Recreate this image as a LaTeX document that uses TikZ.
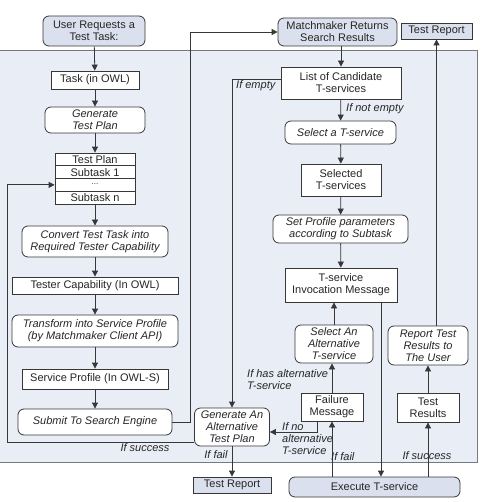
\documentclass[tikz,border=0pt]{standalone}
\usepackage{fontspec}
\setmainfont{Liberation Sans}
\usetikzlibrary{arrows.meta,calc}
\definecolor{panelc}{RGB}{233,237,246}
\definecolor{boxc}{RGB}{218,224,237}
\definecolor{linec}{RGB}{55,55,55}
\definecolor{borderc}{RGB}{120,120,128}
\begin{document}
\begin{tikzpicture}[x=1pt,y=-1pt,
  every node/.style={font=\fontsize{11}{12}\selectfont, inner sep=0pt, align=center, text=black!85},
  base/.style={draw=linec, line width=0.8pt},
  rectw/.style={base, fill=white, rectangle},
  rectf/.style={base, fill=boxc, rectangle},
  rndw/.style={base, fill=white, rounded corners=6pt, font=\fontsize{11}{12}\selectfont\itshape},
  rndf/.style={base, fill=boxc, rounded corners=6pt},
  lab/.style={font=\fontsize{11}{12}\selectfont\itshape, align=left},
  arr/.style={draw=linec, line width=0.8pt, -{Triangle[length=6pt,width=6pt]}},
  ln/.style={draw=linec, line width=0.8pt}
]
\useasboundingbox (0,0) rectangle (480,502);
\fill[panelc] (0,50) rectangle (477,462);
\draw[borderc, line width=0.8pt] (0,50) -- (477,50) -- (477,462) -- (0,462);

% left column
\node[rndf, minimum width=102pt, minimum height=30pt] (user) at (94,31) {User Requests a\\Test Task:};
\node[rectw, minimum width=88pt, minimum height=18pt] (task) at (95,80) {Task (in OWL)};
\node[rndw, minimum width=100pt, minimum height=26pt] (gen) at (95,120) {Generate\\Test Plan};
\node[rectw, minimum width=80pt, minimum height=12.75pt] (tp1) at (95,159.4) {Test Plan};
\node[rectw, minimum width=80pt, minimum height=12.75pt] (tp2) at (95,172.1) {Subtask 1};
\node[rectw, minimum width=80pt, minimum height=12.75pt] (tp3) at (95,184.9) {\raisebox{2pt}{\fontsize{8}{8}\selectfont ...}};
\node[rectw, minimum width=80pt, minimum height=12.75pt] (tp4) at (95,197.6) {Subtask n};
\node[rndw, minimum width=146pt, minimum height=31pt] (conv) at (95,241.5) {Convert Test Task into\\Required Tester Capability};
\node[rectw, minimum width=166pt, minimum height=17pt] (tcap) at (95,285.5) {Tester Capability (In OWL)};
\node[rndw, minimum width=166pt, minimum height=32pt] (trans) at (95,331) {Transform into Service Profile\\(by Matchmaker Client API)};
\node[rectw, minimum width=146pt, minimum height=20pt] (sprof) at (95,379) {Service Profile (In OWL-S)};
\node[rndw, minimum width=154pt, minimum height=26pt] (submit) at (95,422) {Submit To Search Engine};

% right column
\node[rndf, minimum width=119pt, minimum height=28pt] (match) at (337.5,32) {Matchmaker Returns\\Search Results};
\node[rectf, minimum width=71pt, minimum height=16pt] (trep) at (436.5,31) {Test Report};
\node[rectw, minimum width=120pt, minimum height=32pt] (list) at (341,83) {List of Candidate\\T-services};
\node[rndw, minimum width=111pt, minimum height=23pt] (selt) at (340.5,132.5) {Select a T-service};
\node[rectw, minimum width=80pt, minimum height=32pt] (seld) at (341,180) {Selected\\T-services};
\node[rndw, minimum width=135pt, minimum height=28pt] (setp) at (340.5,229) {Set Profile parameters\\according to Subtask};
\node[rectw, minimum width=112pt, minimum height=34pt] (inv) at (341,285) {T-service\\Invocation Message};
\node[rndw, minimum width=78pt, minimum height=38pt] (salt) at (334,344) {Select An\\Alternative\\T-service};
\node[rndw, minimum width=80pt, minimum height=39pt] (rep) at (428,345.5) {Report Test\\Results to\\The User};
\node[rectw, minimum width=62pt, minimum height=28pt] (fail) at (332,407) {Failure\\Message};
\node[rectw, minimum width=62pt, minimum height=29pt] (tres) at (428,407.5) {Test\\Results};
\node[rndf, minimum width=171pt, minimum height=20pt] (exec) at (374.5,487) {Execute T-service};
\node[rndw, minimum width=75pt, minimum height=38pt] (galt) at (232,427) {Generate An\\Alternative\\Test Plan};
\node[rectf, minimum width=78pt, minimum height=16pt] (trep2) at (232,485) {Test Report};

% coordinates
\coordinate (up) at (190,32);
\coordinate (xi) at (381,300);
\coordinate (nf) at (317,432);
\coordinate (lb) at (7,442);

% left column arrows
\draw[arr] (user) -- (task);
\draw[arr] (task) -- (gen);
\draw[arr] (gen) -- (tp1);
\draw[arr] (tp4) -- (conv);
\draw[arr] (conv) -- (tcap);
\draw[arr] (tcap) -- (trans);
\draw[arr] (trans) -- (sprof);
\draw[arr] (sprof) -- (submit);
\draw[arr] (submit.east) -| (up) -- (match.west);

% right column arrows
\draw[arr] (match.south -| list) -- (list.north);
\draw[arr] ($(list.west)+(0,-4)$) -| (galt.north);
\draw[arr] (list) -- (selt);
\draw[arr] (selt) -- (seld);
\draw[arr] (seld) -- (setp);
\draw[arr] (setp) -- (inv);
\draw[arr] (inv.south -| xi) -- (exec.north -| xi);
\draw[arr] (salt.north) -- (salt.north |- inv.south);
\draw[arr] (fail.north) -- (fail.north |- salt.south);
\draw[arr] (fail.south -| nf) -- (nf) -- (galt.east |- nf);
\draw[arr] (exec.north -| fail.south) -- (fail.south);
\draw[arr] (exec.north -| tres.south) -- (tres.south);
\draw[arr] (tres) -- (rep);
\draw[arr] (rep.north -| trep.south) -- (trep.south);
\draw[arr] (galt.west |- lb) -- (lb) |- (tp3.west);
\draw[arr] (galt) -- (trep2);

% labels
\node[lab, anchor=west] (l1) at (236,86) {If empty};
\node[lab, anchor=west] (l2) at (346,109) {If not empty};
\node[lab, anchor=west] (l3) at (247,380) {If has alternative\\T-service};
\node[lab, anchor=west] (l4) at (282,438.5) {If no\\alternative\\T-service};
\node[lab, anchor=west] (l5) at (331,457) {If fail};
\node[lab] (l6) at (427,456) {If success};
\node[lab] (l7) at (145,448) {If success};
\node[lab] (l8) at (216,455) {If fail};
\end{tikzpicture}
\end{document}
